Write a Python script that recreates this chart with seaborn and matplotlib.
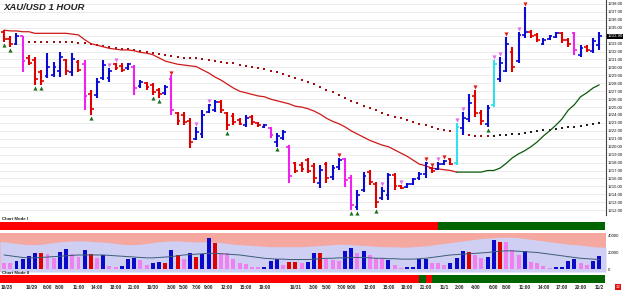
import numpy as np
import pandas as pd
import matplotlib
matplotlib.use("Agg")
import matplotlib.pyplot as plt
import seaborn as sns

sns.set_theme(style="white")
plt.rcParams['font.family'] = ['Liberation Sans', 'DejaVu Sans']

# ---------------- data ----------------
OPEN = [1234.5, 1233.6, 1233.0, 1233.9, 1231.2, 1230.9, 1229.4, 1228.9, 1229.1, 1229.6,
        1230.9, 1229.4, 1230.7, 1230.4, 1226.6, 1226.5, 1228.7, 1228.7, 1230.4, 1230.2,
        1229.9, 1230.1, 1227.6, 1228.0, 1227.8, 1227.1, 1226.8, 1228.6, 1224.2, 1224.0,
        1223.2, 1221.0, 1221.6, 1224.4, 1224.6, 1225.6, 1224.2, 1223.9, 1223.4, 1222.8,
        1223.7, 1223.0, 1222.5, 1222.4, 1220.6, 1221.1, 1220.0, 1217.9, 1217.7, 1218.3,
        1217.6, 1215.4, 1217.8, 1216.2, 1217.4, 1218.4, 1216.0, 1212.4, 1214.5, 1216.8,
        1215.3, 1213.5, 1213.9, 1216.4, 1215.1, 1214.9, 1215.3, 1216.0, 1216.6, 1217.3,
        1217.2, 1217.8, 1218.4, 1217.9, 1222.4, 1223.5, 1226.4, 1224.3, 1222.9, 1225.2,
        1228.6, 1229.6, 1231.9, 1230.8, 1234.1, 1234.5, 1234.1, 1233.0, 1233.6, 1233.8,
        1234.3, 1233.5, 1234.3, 1231.6, 1232.6, 1232.1, 1232.8]
HIGH = [1234.7, 1234.0, 1234.3, 1234.0, 1231.6, 1231.3, 1229.7, 1231.8, 1230.7, 1231.9,
        1231.1, 1231.8, 1230.9, 1230.9, 1227.2, 1228.7, 1230.9, 1229.9, 1230.6, 1230.6,
        1230.6, 1230.3, 1228.4, 1228.2, 1228.0, 1227.4, 1227.8, 1229.0, 1224.4, 1224.4,
        1223.6, 1222.5, 1224.6, 1225.4, 1225.9, 1225.9, 1224.4, 1224.2, 1223.6, 1224.0,
        1224.0, 1223.1, 1222.9, 1222.5, 1221.7, 1222.1, 1220.2, 1218.1, 1218.1, 1218.6,
        1217.9, 1217.7, 1218.1, 1217.7, 1218.6, 1218.6, 1216.4, 1214.5, 1216.8, 1217.1,
        1215.5, 1214.9, 1216.7, 1216.7, 1215.2, 1215.4, 1216.1, 1216.8, 1218.1, 1217.4,
        1218.1, 1218.3, 1218.6, 1223.0, 1224.4, 1226.6, 1227.2, 1224.6, 1225.3, 1230.9,
        1231.3, 1233.8, 1232.6, 1234.5, 1237.6, 1234.7, 1234.3, 1233.7, 1234.1, 1234.5,
        1234.5, 1233.7, 1234.5, 1232.8, 1232.8, 1233.7, 1234.5]
LOW = [1233.2, 1232.6, 1232.8, 1229.4, 1230.3, 1227.8, 1227.8, 1228.7, 1228.8, 1228.8,
       1229.0, 1228.9, 1229.4, 1224.6, 1224.0, 1226.1, 1228.4, 1228.2, 1229.7, 1229.4,
       1229.7, 1226.5, 1227.4, 1227.2, 1226.5, 1226.1, 1226.5, 1224.0, 1222.7, 1222.7,
       1219.8, 1220.8, 1221.1, 1224.2, 1224.4, 1224.2, 1222.1, 1222.7, 1222.7, 1222.5,
       1222.7, 1222.5, 1222.4, 1221.1, 1220.0, 1220.8, 1215.4, 1216.7, 1216.8, 1216.7,
       1215.4, 1214.8, 1215.4, 1215.8, 1217.1, 1214.9, 1212.0, 1212.0, 1214.3, 1215.2,
       1212.3, 1213.3, 1213.3, 1214.5, 1214.7, 1214.8, 1215.2, 1215.8, 1216.1, 1216.7,
       1217.1, 1217.7, 1217.7, 1217.7, 1221.5, 1223.1, 1223.7, 1222.7, 1222.5, 1225.0,
       1228.2, 1229.4, 1229.4, 1230.6, 1233.7, 1233.7, 1233.2, 1232.8, 1233.5, 1233.7,
       1233.1, 1232.6, 1231.6, 1231.3, 1231.9, 1231.8, 1232.2]
CLOSE = [1233.6, 1233.0, 1234.0, 1230.8, 1230.6, 1228.6, 1228.3, 1230.0, 1230.0, 1231.3,
         1229.6, 1231.0, 1229.7, 1226.4, 1224.8, 1228.2, 1230.3, 1229.6, 1229.9, 1229.7,
         1230.4, 1227.4, 1228.2, 1227.5, 1226.9, 1226.6, 1227.5, 1224.6, 1223.3, 1223.1,
         1220.6, 1221.9, 1224.0, 1225.2, 1225.6, 1224.6, 1222.7, 1223.1, 1222.9, 1223.6,
         1223.1, 1222.7, 1222.8, 1221.5, 1221.4, 1221.9, 1216.3, 1217.0, 1217.2, 1217.0,
         1216.0, 1217.1, 1216.0, 1217.3, 1218.3, 1215.8, 1212.6, 1213.9, 1216.3, 1215.6,
         1213.0, 1214.4, 1216.4, 1215.0, 1214.8, 1215.3, 1215.9, 1216.6, 1217.9, 1216.9,
         1217.8, 1218.2, 1217.8, 1222.5, 1223.6, 1225.5, 1224.2, 1223.3, 1224.9, 1230.4,
         1230.6, 1233.0, 1230.0, 1234.1, 1234.5, 1233.9, 1233.5, 1233.5, 1233.9, 1234.3,
         1233.4, 1232.9, 1232.2, 1232.4, 1232.2, 1233.3, 1233.9]
# r = down, b = up, m = strong down, c = strong up
BAR_KIND = ("rrbmrrrbbb" "rbrmrbbbrr" "bmbrrrbmrr" "rbbbbrrrrb" "rrbmbbmrrr"
            "rbrbbmmbbr" "rbbrrbbbbr" "bbrcbbrrbc" "bbrbbrrbbb" "rrmbrbb")

MA_FAST = [1234.7, 1234.6, 1234.6, 1234.5, 1234.5, 1234.3, 1234.3, 1234.3, 1234.3, 1234.3,
           1234.3, 1234.2, 1234.1, 1233.5, 1233.0, 1232.8, 1232.6, 1232.4, 1232.3, 1232.2,
           1232.2, 1232.1, 1231.9, 1231.8, 1231.6, 1231.2, 1230.8, 1230.6, 1230.4, 1230.3,
           1230.2, 1230.1, 1229.7, 1229.3, 1228.8, 1228.4, 1227.9, 1227.4, 1227.0, 1226.8,
           1226.6, 1226.4, 1226.3, 1226.0, 1225.8, 1225.6, 1225.4, 1225.1, 1225.0, 1224.8,
           1224.5, 1224.1, 1223.6, 1223.2, 1222.9, 1222.5, 1222.0, 1221.6, 1221.2, 1220.8,
           1220.5, 1220.2, 1220.0, 1219.6, 1219.2, 1218.8, 1218.3, 1217.8, 1217.6, 1217.3,
           1217.2, 1217.1, 1217.0, 1216.8, 1216.8, 1216.8, 1216.8, 1216.8, 1217.0, 1217.0,
           1217.3, 1217.9, 1218.6, 1219.1, 1219.5, 1220.0, 1220.6, 1221.35, 1222.0, 1222.7,
           1223.5, 1224.6, 1225.3, 1226.3, 1226.8, 1227.4, 1227.8]
MA_FAST_TURN = 73          # bar where the fast average turns from red to green

MA_SLOW_START = 4
MA_SLOW = [1233.2, 1233.2, 1233.2, 1233.2, 1233.2, 1233.2, 1233.2, 1233.2, 1233.1, 1233.1,
           1233.0, 1232.8, 1232.7, 1232.6, 1232.4, 1232.3, 1232.3, 1232.2, 1232.1, 1231.9,
           1231.8, 1231.7, 1231.6, 1231.4, 1231.3, 1231.2, 1231.2, 1231.2, 1231.1, 1230.9,
           1230.8, 1230.7, 1230.6, 1230.6, 1230.3, 1230.2, 1230.1, 1229.9, 1229.8, 1229.6,
           1229.4, 1229.2, 1228.9, 1228.7, 1228.4, 1228.2, 1227.9, 1227.5, 1227.2, 1226.9,
           1226.5, 1226.1, 1225.8, 1225.5, 1225.1, 1224.9, 1224.6, 1224.3, 1224.0, 1223.7,
           1223.6, 1223.4, 1223.1, 1222.9, 1222.7, 1222.5, 1222.2, 1222.1, 1222.0, 1221.7,
           1221.6, 1221.5, 1221.35, 1221.35, 1221.35, 1221.35, 1221.5, 1221.5, 1221.6, 1221.6,
           1221.7, 1221.9, 1222.0, 1222.1, 1222.1, 1222.2, 1222.4, 1222.5, 1222.5, 1222.6,
           1222.7, 1222.9, 1223.0]
MA_SLOW_TURN = 79

SIG_BUY = [0, 1, 5, 6, 14, 24, 25, 36, 44, 56, 57, 60, 78]
SIG_SELL = [27, 54, 68, 69, 71, 76, 81, 84]
SIG_WARN = [17, 18, 31, 33, 61, 64, 70, 73, 74, 79, 80, 83]

VOLUME = [7300, 7300, 9700, 12100, 15800, 19400, 19400, 18200, 13300, 20600,
          24200, 18200, 14500, 23000, 18200, 13300, 17000, 3600, 2400, 3600,
          12100, 13300, 10900, 4800, 7300, 8500, 7300, 23000, 17000, 12100,
          19400, 14500, 18200, 37600, 31500, 19400, 19400, 12100, 7300, 6100,
          2400, 2400, 2400, 9700, 12100, 4800, 8500, 8500, 7300, 8500,
          19400, 19400, 12100, 10900, 9700, 21800, 25500, 19400, 21800, 17000,
          13300, 12100, 10900, 4800, 1200, 2400, 2400, 12100, 12100, 7300,
          7300, 4800, 7300, 13300, 21800, 20600, 17000, 13300, 14500, 35100,
          32700, 32700, 23000, 17000, 21800, 8500, 7300, 3600, 1200, 2400,
          2400, 9700, 12100, 7300, 4800, 9700, 15800]
VOL_KIND = ("vvbbbbrvvb" "bvvbrvbvvb" "bbvvbbrbrv" "brbbrvvvvv" "vvbbbvrrvb"
            "brvvvbbvbv" "vvbvvbbbbv" "vvbbbrvvbb" "rvvvbvvvvb" "bbbvvbb")
VOL_AVG = [17000, 16000, 15000, 14000, 13500, 13500, 14000, 14500, 15000, 15500,
           16000, 16500, 17000, 17000, 17000, 17000, 17000, 16500, 16000, 15500,
           15000, 14500, 14000, 13500, 13500, 14000, 14500, 15000, 16000, 17000,
           17500, 18000, 18500, 19000, 19000, 18500, 18000, 17500, 17000, 16000,
           15000, 14000, 13000, 12500, 12000, 12000, 11500, 11500, 11500, 11500,
           12000, 12500, 13000, 13000, 13500, 13500, 14000, 14000, 14000, 13500,
           13000, 13000, 12500, 12500, 12000, 12000, 12000, 12500, 13000, 14000,
           15000, 16000, 17000, 17500, 18000, 18500, 19000, 19500, 20000, 21000,
           21500, 22000, 22000, 21500, 21000, 20500, 20000, 19000, 18000, 17000,
           16000, 15000, 14000, 13000, 12500, 12000, 11500]
VOL_BAND = [33000, 32000, 31000, 30000, 29500, 29500, 30000, 31000, 32000, 33000,
            33500, 34000, 34000, 34000, 33500, 33000, 32500, 32000, 31000, 30000,
            29500, 29500, 30000, 31000, 32000, 33000, 33500, 34000, 34000, 33500,
            33000, 33000, 33000, 33000, 32500, 32000, 31000, 30000, 29500, 29000,
            28500, 28000, 27500, 27000, 27000, 27000, 27000, 27000, 27000, 27500,
            28000, 28500, 29000, 29500, 30000, 30000, 29500, 29000, 28500, 28000,
            27500, 27000, 27000, 27000, 26500, 26500, 27000, 27500, 28000, 29000,
            30000, 31000, 32000, 33000, 34000, 35000, 36000, 37000, 37500, 38000,
            38500, 38500, 38500, 38000, 37000, 36000, 35000, 34000, 33000, 32000,
            31000, 30000, 29500, 29000, 28000, 27000, 26500]

MODE1_RUNS = [("R", 70), ("G", 27)]
MODE2_RUNS = [("R", 67), ("G", 1), ("R", 1), ("G", 28)]

XTICK_POS = [0.5, 4.5, 7, 9, 12, 15, 18, 21, 24, 27, 29, 31, 33, 36, 39, 42, 47, 50,
             52, 54.5, 56, 59, 62, 65, 68, 71, 73.5, 76, 79, 81, 84, 87, 90, 93, 96]
XTICK_LAB = ["10/28", "10/29", "6:00", "8:00", "11:00", "14:00", "18:00", "21:00", "10/30",
             "3:00", "5:00", "7:00", "9:00", "12:00", "15:00", "19:00", "10/31", "3:00",
             "5:00", "7:00", "9:00", "12:00", "15:00", "18:00", "21:00", "11/1", "2:00",
             "4:00", "6:00", "8:00", "11:00", "14:00", "17:00", "20:00", "11/2"]

for arr in (OPEN, HIGH, LOW, CLOSE, MA_FAST, VOLUME, VOL_AVG, VOL_BAND):
    assert len(arr) == 97, len(arr)
assert len(BAR_KIND) == 97 and len(VOL_KIND) == 97

# ---------------- styling ----------------
BAR_COL = {"r": "#E00000", "b": "#0A0AD2", "m": "#F020F0", "c": "#30E0F0"}
VCOL = {"r": "#E00000", "b": "#0A0AC8", "v": "#F080F0"}
MODE_COL = {"R": "#FF0000", "G": "#006400"}
AXFS = 3.1

W, H = 625, 290
def rect(x0, y0, x1, y1):
    return [x0 / W, 1 - y1 / H, (x1 - x0) / W, (y1 - y0) / H]

XL = (-0.65, 97.1)
idx = np.arange(97)

fig = plt.figure(figsize=(W / 100, H / 100), dpi=100)
fig.patch.set_facecolor("white")

# ---------------- price panel ----------------
ax = fig.add_axes(rect(0, 0, 606, 215))
ax.set_facecolor("white")
ax.set_xlim(*XL)
ax.set_ylim(1211.39, 1238.5)
ax.set_yticks(np.arange(1212, 1239))
ax.yaxis.tick_right()
ax.set_yticklabels([f"{v:.2f}" for v in np.arange(1212, 1239)], fontsize=AXFS)
ax.tick_params(axis="y", length=0, pad=1.2, colors="#111111")
ax.set_xticks([])
ax.grid(axis="y", color="#E8E8E8", lw=0.6)
for s in ("left", "top", "bottom"):
    ax.spines[s].set_visible(False)
ax.spines["right"].set_color("#404040")
ax.spines["right"].set_linewidth(0.8)

df_fast = pd.DataFrame({"i": idx, "ma": MA_FAST})
sns.lineplot(data=df_fast[df_fast.i <= MA_FAST_TURN], x="i", y="ma", ax=ax,
             color="#D01818", lw=0.9, legend=False)
sns.lineplot(data=df_fast[df_fast.i >= MA_FAST_TURN], x="i", y="ma", ax=ax,
             color="#0A5A0A", lw=0.9, legend=False)

slow_idx = np.arange(MA_SLOW_START, MA_SLOW_START + len(MA_SLOW))
df_slow = pd.DataFrame({"i": slow_idx, "ma": MA_SLOW})
df_slow["c"] = np.where(df_slow.i < MA_SLOW_TURN, "a", "b")
sns.scatterplot(data=df_slow, x="i", y="ma", hue="c", palette={"a": "#A01010", "b": "#202020"},
                s=2.2, marker="s", linewidth=0, ax=ax, legend=False)

for i in idx:
    c = BAR_COL[BAR_KIND[i]]
    ax.vlines(i, LOW[i], HIGH[i], color=c, lw=1.5)
    ax.hlines(OPEN[i], i - 0.45, i, color=c, lw=1.2)
    ax.hlines(CLOSE[i], i, i + 0.45, color=c, lw=1.2)

buy = pd.DataFrame({"i": SIG_BUY, "y": [LOW[i] - 0.35 for i in SIG_BUY]})
sell = pd.DataFrame({"i": SIG_SELL, "y": [HIGH[i] + 0.35 for i in SIG_SELL]})
warn = pd.DataFrame({"i": SIG_WARN, "y": [HIGH[i] + 0.35 for i in SIG_WARN]})
sns.scatterplot(data=buy, x="i", y="y", marker="^", s=9, color="#1E6E1E", linewidth=0, ax=ax)
sns.scatterplot(data=sell, x="i", y="y", marker="v", s=9, color="#E02020", linewidth=0, ax=ax)
sns.scatterplot(data=warn, x="i", y="y", marker="v", s=9, color="#E070E8", linewidth=0, ax=ax)
ax.set_xlabel("")
ax.set_ylabel("")

ax.text(1.002, CLOSE[-1], f"{CLOSE[-1]:.2f}", transform=ax.get_yaxis_transform(),
        fontsize=AXFS, color="white", va="center", ha="left",
        bbox=dict(facecolor="black", edgecolor="none", pad=0.5))

fig.text(3 / W, 1 - 8 / H, "XAU/USD 1 HOUR", fontsize=6.8, fontweight="bold",
         style="italic", va="center", ha="left")

# ---------------- mode strips ----------------
def mode_strip(box, runs):
    a = fig.add_axes(box)
    a.set_xlim(*XL)
    a.set_ylim(0, 1)
    start = 0
    for k, (state, n) in enumerate(runs):
        left = XL[0] if k == 0 else start
        a.axvspan(left, start + n, color=MODE_COL[state], lw=0)
        start += n
    for s in a.spines.values():
        s.set_visible(False)
    a.set_yticks([])
    return a

m1 = mode_strip(rect(0, 222, 606, 230), MODE1_RUNS)
m1.set_xticks([])
fig.text(2 / W, 1 - 219 / H, "Chart Mode I", fontsize=3.2, fontweight="bold", va="center")

m2 = mode_strip(rect(0, 275, 606, 283), MODE2_RUNS)
m2.set_xticks(XTICK_POS)
m2.set_xticklabels(XTICK_LAB, fontsize=3.4, fontweight="bold")
m2.tick_params(axis="x", length=0, pad=1.5)
fig.text(2 / W, 1 - 273 / H, "Chart Mode II", fontsize=3.2, fontweight="bold", va="center")

# ---------------- volume panel ----------------
av = fig.add_axes(rect(0, 233, 606, 272))
av.set_facecolor("#F4A8A0")
av.set_xlim(*XL)
av.set_ylim(-3600, 43600)
xs = np.concatenate([[XL[0]], idx, [XL[1]]])
band = np.concatenate([[VOL_BAND[0]], VOL_BAND, [VOL_BAND[-1]]])
av.fill_between(xs, -3600, band, color="#CFCFF4", lw=0)
av.bar(idx, VOLUME, width=0.62, color=[VCOL[k] for k in VOL_KIND], lw=0)
sns.lineplot(x=idx, y=VOL_AVG, ax=av, color="#3C5C78", lw=0.7, legend=False)
av.yaxis.tick_right()
av.set_yticks([0, 20000, 40000])
av.set_yticklabels(["0", "20000", "40000"], fontsize=AXFS)
av.tick_params(axis="y", length=0, pad=1.2, colors="#111111")
av.set_xticks([])
for s in ("left", "top", "bottom", "right"):
    av.spines[s].set_visible(False)

fig.text(616 / W, 1 - 287 / H, "32", fontsize=3.2, color="white", va="center", ha="left",
         bbox=dict(facecolor="#E01010", edgecolor="none", pad=0.5))

fig.savefig("out.png", dpi=100, facecolor="white")
